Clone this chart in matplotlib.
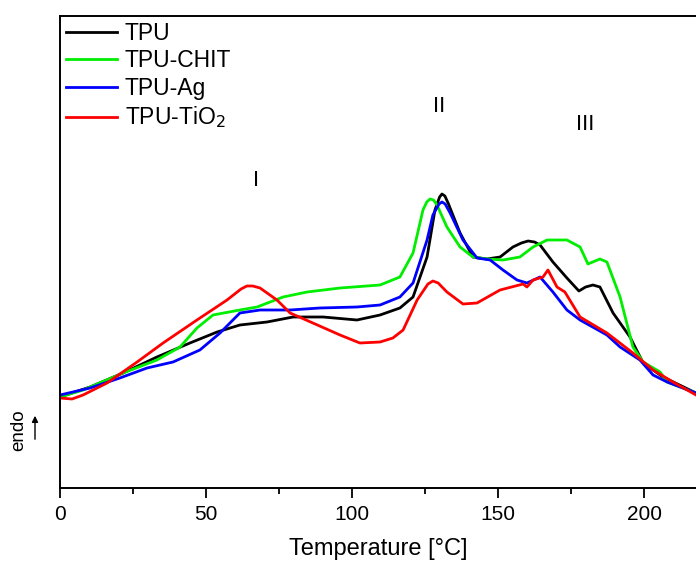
import numpy as np
import matplotlib.pyplot as plt
from matplotlib.ticker import MultipleLocator

plt.rcParams['font.family'] = ['Liberation Sans', 'DejaVu Sans']

# DSC curves (signal in arbitrary units)
t_tpu = [0, 10.3, 21.6, 33.2, 44.5, 53.8, 61.6, 70.9, 79.8, 90.1, 101.7, 109.6, 116.4, 120.9,
         125.7, 128.4, 130.0, 130.8, 131.8, 132.9, 137.0, 141.4, 146.2, 150.7, 155.1, 158.0,
         160.3, 162.5, 164.4, 168.8, 173.6, 177.7, 180.0, 182.5, 184.9, 189.4, 195.2, 199.7,
         206.5, 217.8]
y_tpu = [9.1, 10.1, 11.5, 13.1, 14.5, 15.6, 16.3, 16.6, 17.1, 17.1, 16.8, 17.3, 18.0, 19.1,
         23.1, 27.8, 29.1, 29.4, 29.2, 28.5, 25.5, 23.1, 22.9, 23.1, 24.1, 24.5,
         24.7, 24.6, 24.3, 22.6, 21.0, 19.7, 20.1, 20.3, 20.1, 17.5, 15.1, 12.5,
         11.1, 9.5]

t_chit = [0, 7.9, 21.6, 33.2, 41.1, 46.9, 52.4, 61.6, 67.5, 76.4, 84.6, 95.9, 109.6, 116.4,
          120.9, 124.3, 125.6, 126.7, 127.9, 129.1, 132.5, 137.0, 141.4, 146.2, 151.7, 157.5,
          162.0, 166.8, 173.6, 178.1, 180.8, 184.9, 187.3, 191.8, 196.2, 199.7, 205.5, 207.9,
          217.8]
y_chit = [9.1, 9.8, 11.5, 12.8, 14.1, 16.0, 17.3, 17.8, 18.1, 19.1, 19.6, 20.0, 20.3, 21.1,
          23.5, 27.8, 28.6, 28.9, 28.8, 28.3, 26.1, 24.1, 23.1, 22.9, 22.8, 23.1,
          24.1, 24.8, 24.8, 24.1, 22.4, 22.9, 22.6, 19.1, 14.1, 12.6, 11.6, 10.6,
          9.5]

t_ag = [0, 10.3, 20.5, 29.8, 38.7, 47.9, 54.8, 61.6, 68.5, 78.8, 89.0, 101.7, 109.6, 116.4,
        120.9, 125.7, 127.7, 129.8, 130.8, 131.9, 133.6, 138.0, 142.8, 147.3, 151.7, 156.5,
        159.9, 164.4, 168.8, 173.6, 178.1, 187.3, 191.8, 198.6, 203.1, 207.9, 217.8]
y_ag = [9.3, 10.0, 11.0, 12.0, 12.6, 13.8, 15.5, 17.5, 17.8, 17.8, 18.0, 18.1, 18.3, 19.1,
        20.5, 24.8, 27.3, 28.4, 28.6, 28.4, 27.5, 24.8, 23.0, 22.8, 21.8, 20.8,
        20.5, 21.1, 19.6, 17.8, 16.8, 15.3, 14.1, 12.8, 11.3, 10.6, 9.5]

t_tio2 = [0, 4.1, 7.9, 16.1, 26.4, 35.3, 46.9, 57.2, 62.0, 64.0, 66.0, 68.5, 74.3, 78.8,
          86.6, 95.9, 102.7, 109.6, 114.0, 117.5, 122.3, 126.0, 127.7, 129.5, 132.5, 138.0,
          142.8, 150.7, 158.6, 159.9, 162.0, 165.4, 167.1, 170.2, 172.9, 178.1, 187.3, 196.2,
          203.1, 209.9, 217.8]
y_tio2 = [9.0, 8.9, 9.3, 10.5, 12.6, 14.5, 16.8, 18.8, 19.9, 20.2, 20.2, 20.0, 18.8, 17.5,
          16.5, 15.3, 14.5, 14.6, 15.0, 15.8, 18.8, 20.4, 20.7, 20.5, 19.6, 18.4,
          18.5, 19.8, 20.4, 20.1, 20.8, 21.1, 21.8, 20.1, 19.6, 17.1, 15.5, 13.5,
          11.8, 10.6, 9.3]

fig = plt.figure(figsize=(6.96, 5.63), dpi=100)
ax = fig.add_axes([60 / 696, 1 - 488 / 563, 1 - 60 / 696, (488 - 16) / 563])

ax.plot(t_tpu, y_tpu, color='black', lw=2, label='TPU')
ax.plot(t_chit, y_chit, color='#00ee00', lw=2, label='TPU-CHIT')
ax.plot(t_ag, y_ag, color='#0000ff', lw=2, label='TPU-Ag')
ax.plot(t_tio2, y_tio2, color='#ff0000', lw=2, label='TPU-TiO$_2$')

ax.set_xlim(0, 217.8)
ax.set_ylim(0, 47.2)
ax.xaxis.set_major_locator(MultipleLocator(50))
ax.xaxis.set_minor_locator(MultipleLocator(25))
ax.tick_params(axis='x', which='major', direction='out', length=7, width=1.3,
               labelsize=15, pad=5, top=False)
ax.tick_params(axis='x', which='minor', direction='out', length=4, width=1.3, top=False)
ax.set_yticks([])
for s in ['left', 'bottom', 'top']:
    ax.spines[s].set_linewidth(1.4)
ax.spines['right'].set_visible(False)

ax.set_xlabel('Temperature [°C]', fontsize=17, labelpad=10)

ax.text(67, 30.7, 'I', fontsize=16, ha='center', va='center')
ax.text(130, 38.1, 'II', fontsize=16, ha='center', va='center')
ax.text(180, 36.4, 'III', fontsize=16, ha='center', va='center')

leg = ax.legend(loc='upper left', frameon=False, fontsize=16.5, handlelength=2.2,
                handletextpad=0.35, labelspacing=0.2, borderaxespad=0.1,
                bbox_to_anchor=(-0.008, 1.012))

fig.text(19 / 696, 1 - 430 / 563, 'endo', rotation=90, fontsize=13.5, ha='center', va='center')
ax.annotate('', xy=(35 / 696, 1 - 413 / 563), xytext=(35 / 696, 1 - 442 / 563),
            xycoords='figure fraction', textcoords='figure fraction',
            arrowprops=dict(arrowstyle='-|>', color='black', lw=1, mutation_scale=9))

fig.savefig('out.png', dpi=100)
